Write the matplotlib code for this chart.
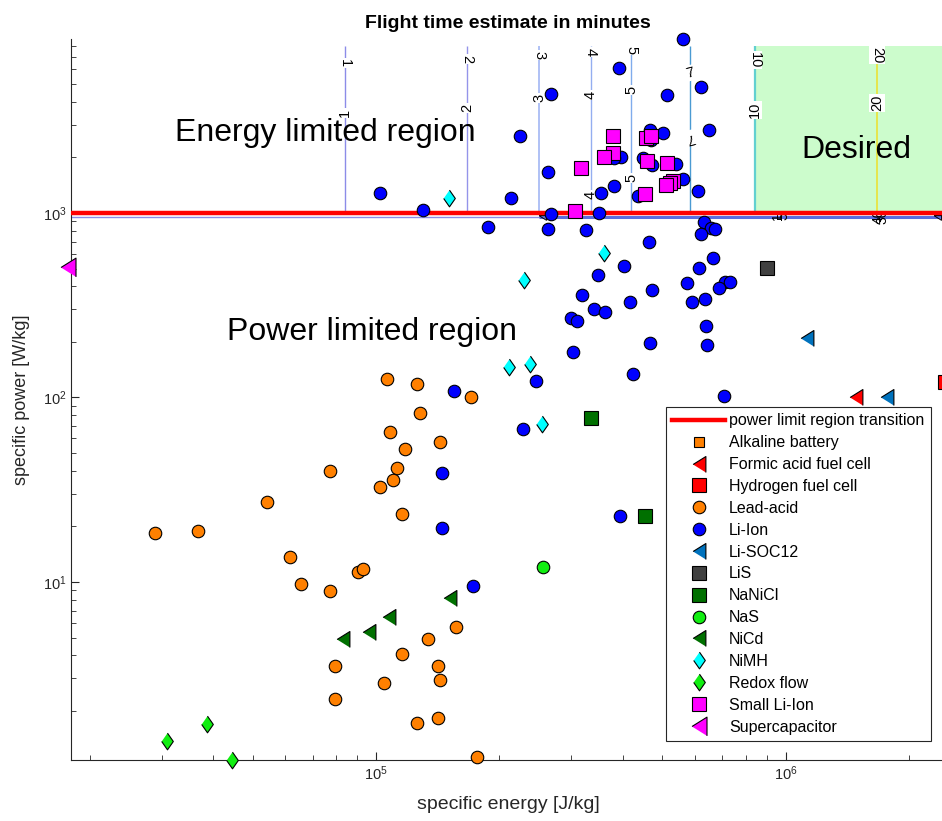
import matplotlib.pyplot as plt

plt.rcParams['font.family'] = ['Liberation Sans', 'DejaVu Sans']
plt.rcParams['mathtext.fontset'] = 'custom'
plt.rcParams['mathtext.rm'] = 'Liberation Sans'
plt.rcParams['mathtext.it'] = 'Liberation Sans:italic'
plt.rcParams['mathtext.bf'] = 'Liberation Sans:bold'

# specific energy [J/kg] / specific power [W/kg]
li_ion_energy = [1.02e5, 1.30e5, 1.88e5, 2.14e5, 5.62e5, 3.91e5, 2.68e5, 5.12e5, 6.21e5, 2.25e5,
                 6.50e5, 5.02e5, 4.66e5, 4.69e5, 3.96e5, 3.81e5, 4.49e5, 4.71e5, 5.41e5, 5.62e5,
                 2.63e5, 3.80e5, 3.54e5, 4.35e5, 6.11e5, 2.67e5, 3.51e5, 2.63e5, 3.25e5, 6.32e5,
                 6.59e5, 6.72e5, 6.21e5, 4.63e5, 6.65e5, 4.03e5, 6.15e5, 3.48e5, 5.73e5, 7.11e5,
                 7.31e5, 6.88e5, 4.71e5, 3.18e5, 4.17e5, 5.92e5, 6.36e5, 3.40e5, 3.63e5, 2.99e5,
                 3.09e5, 6.39e5, 4.66e5, 6.44e5, 3.03e5, 4.23e5, 2.46e5, 7.07e5, 2.28e5, 3.94e5,
                 1.55e5, 1.45e5, 1.45e5, 1.72e5]
li_ion_power = [1279, 1034, 836, 1201, 8770, 6083, 4398, 4378, 4800, 2624,
                2818, 2704, 2818, 2487, 2019, 1994, 1994, 1820, 1836, 1528,
                1674, 1406, 1279, 1241, 1316, 984, 1004, 816, 809, 890,
                832, 816, 767, 699, 568, 518, 503, 459, 419, 424,
                421, 394, 383, 361, 331, 331, 340, 303, 292, 269,
                260, 245, 198, 193, 176, 134, 123, 102, 67.5, 22.7,
                108, 39.0, 19.5, 9.5]

lead_acid_energy = [1.064e5, 1.257e5, 1.705e5, 1.278e5, 1.084e5, 1.432e5, 1.179e5, 7.72e4,
                    1.123e5, 1.102e5, 1.024e5, 1.159e5, 5.41e4, 2.89e4, 3.674e4, 6.18e4,
                    9.02e4, 9.28e4, 6.57e4, 7.72e4, 1.57e5, 1.337e5, 1.159e5, 7.93e4,
                    1.414e5, 1.43e5, 1.044e5, 7.93e4, 1.257e5, 1.414e5, 1.761e5]
lead_acid_power = [126, 118.3, 100.2, 82.7, 65.0, 57.6, 52.6, 40.1,
                   41.3, 35.7, 32.6, 23.4, 27.1, 18.4, 18.9, 13.6,
                   11.3, 11.7, 9.75, 8.94, 5.68, 4.89, 4.09, 3.52,
                   3.52, 2.94, 2.85, 2.31, 1.71, 1.82, 1.12]

small_li_ion_energy = [3.79e5, 4.555e5, 4.69e5, 3.79e5, 3.605e5, 3.162e5, 4.60e5,
                       5.126e5, 5.32e5, 5.22e5, 5.10e5, 4.54e5, 3.06e5]
small_li_ion_power = [2624, 2541, 2614, 2107, 2004, 1760, 1913, 1859, 1491, 1449, 1418, 1268, 1025]

nimh_energy = [1.51e5, 3.605e5, 2.30e5, 2.108e5, 2.378e5, 2.536e5]
nimh_power = [1201, 605, 433, 146.9, 152, 71.8]

nicd_energy = [8.30e4, 9.60e4, 1.074e5, 1.518e5]
nicd_power = [4.89, 5.34, 6.44, 8.16]

redox_energy = [3.09e4, 3.865e4, 4.455e4]
redox_power = [1.38, 1.70, 1.084]

nas_energy = [2.55e5]
nas_power = [12.1]

nanicl_energy = [3.345e5, 4.54e5]
nanicl_power = [77.8, 22.7]

lis_energy = [9.0e5]
lis_power = [501]

lisocl_energy = [1.129e6, 1.77e6]
lisocl_power = [211, 100.2]

formic_energy = [1.482e6]
formic_power = [100.2]

hydrogen_energy = [2.45e6]
hydrogen_power = [121]

supercap_energy = [1.77e4]
supercap_power = [508]

alkaline_energy = []
alkaline_power = []

transition_energy = [1.8e4, 2.45e6]
transition_power = [1000, 1000]

# flight time contours (minutes) and where they sit
flight_minutes = [1, 2, 3, 4, 5, 7, 10, 20]
flight_energy = [8.4e4, 1.67e5, 2.5e5, 3.35e5, 4.2e5, 5.85e5, 8.4e5, 1.67e6]
label_top_power = [6500, 6840, 7178, 7480, 7645, 5740, 6747, 7178]
label_low_power = [3483, 3706, 4198, 4362, 4645, 2550, 3614, 3945]
contour_power_range = [1000, 8000]
flat_contour_power = [955, 952]

desired_energy = [8.4e5, 2.45e6]
desired_power = [1000, 8000]

line_colors = ['#8c8ce8', '#9494ea', '#a2b6f4', '#94aef0', '#80acec', '#4a9ad2', '#62d0d0', '#e6e64c']
line_widths = [1, 1, 1.2, 1, 1, 1, 1.6, 1.4]

fig = plt.figure(figsize=(9.42, 8.21), dpi=100)
ax = fig.add_axes([0.0754, 0.0743, 0.9278, 0.8782])
ax.set_xscale('log')
ax.set_yscale('log')

# desired region
ax.fill([desired_energy[0], desired_energy[1], desired_energy[1], desired_energy[0]],
        [desired_power[0], desired_power[0], desired_power[1], desired_power[1]],
        color='#ccfccc', lw=0, zorder=0)

# contour lines
ax.hlines(flat_contour_power[0], transition_energy[0], transition_energy[1],
          color=line_colors[0], lw=1, zorder=1)
ax.hlines(flat_contour_power[1], flight_energy[2], transition_energy[1],
          color='#5a6ee0', lw=2.2, zorder=1)
for i, t in enumerate(flight_minutes):
    ax.vlines(flight_energy[i], contour_power_range[0], contour_power_range[1],
              color=line_colors[i], lw=line_widths[i], zorder=1)
    rot_top, rot_low = (15, 195) if t == 7 else (-90, 90)
    for p, r in [(label_top_power[i], rot_top), (label_low_power[i], rot_low)]:
        ax.text(flight_energy[i], p, str(t), rotation=r, ha='center', va='center',
                fontsize=10.5, zorder=2,
                bbox=dict(facecolor='white', edgecolor='none', pad=0.6))
ax.text(flight_energy[3], 1252, '4', rotation=90, ha='center', va='center', fontsize=10.5,
        zorder=2, bbox=dict(facecolor='white', edgecolor='none', pad=0.6))
ax.text(flight_energy[4], 1548, '5', rotation=90, ha='center', va='center', fontsize=10.5,
        zorder=2, bbox=dict(facecolor='white', edgecolor='none', pad=0.6))

# labels squeezed on the flat part of the contours
flat_label_energy = [2.59e5, 9.6e5, 9.9e5, 1.69e6, 1.72e6, 2.39e6]
flat_label_text = ['4', '1', '5', '40', '30', '4']
for e, s in zip(flat_label_energy, flat_label_text):
    ax.text(e, 958, s, rotation=90, ha='center', va='center', fontsize=10, zorder=2)

ax.plot(transition_energy, transition_power, color='red', lw=3.2, zorder=3,
        label='power limit region transition')

diamond = [(0, 1), (0.7, 0), (0, -1), (-0.7, 0)]
tri_left = [(-0.8, 0), (0.8, 1), (0.8, -1)]

series = [
    (alkaline_energy, alkaline_power, 's', '#ff8000', 7, 'Alkaline battery'),
    (formic_energy, formic_power, tri_left, '#ff0000', 11.5, 'Formic acid fuel cell'),
    (hydrogen_energy, hydrogen_power, 's', '#ff0000', 9.5, 'Hydrogen fuel cell'),
    (lead_acid_energy, lead_acid_power, 'o', '#ff8000', 9, 'Lead-acid'),
    (li_ion_energy, li_ion_power, 'o', '#0000ff', 9, 'Li-Ion'),
    (lisocl_energy, lisocl_power, tri_left, '#0072bd', 11.5, 'Li-SOC12'),
    (lis_energy, lis_power, 's', '#404040', 9.5, 'LiS'),
    (nanicl_energy, nanicl_power, 's', '#007000', 9.5, 'NaNiCl'),
    (nas_energy, nas_power, 'o', '#11ee11', 9, 'NaS'),
    (nicd_energy, nicd_power, tri_left, '#007000', 11.5, 'NiCd'),
    (nimh_energy, nimh_power, diamond, '#00ffff', 12, 'NiMH'),
    (redox_energy, redox_power, diamond, '#11ee11', 12, 'Redox flow'),
    (small_li_ion_energy, small_li_ion_power, 's', '#ff00ff', 9.5, 'Small Li-Ion'),
    (supercap_energy, supercap_power, tri_left, '#ff00ff', 13.5, 'Supercapacitor'),
]
for e, p, m, c, ms, lab in series:
    ax.plot(e, p, linestyle='none', marker=m, ms=ms, mfc=c, mec='black', mew=0.8,
            label=lab, zorder=4, clip_on=False)

ax.text(7.52e4, 2714, 'Energy limited region', fontsize=23, ha='center', va='center', zorder=2)
ax.text(9.79e4, 226.5, 'Power limited region', fontsize=23, ha='center', va='center', zorder=2)
ax.text(1.491e6, 2200, 'Desired', fontsize=23, ha='center', va='center', zorder=2)

ax.set_xlim(1.8e4, 2.45e6)
ax.set_ylim(1.084, 8770)

ax.set_title('Flight time estimate in minutes', fontsize=14, fontweight='bold', pad=8)
ax.set_xlabel('specific energy [J/kg]', fontsize=14, color='#262626', labelpad=9)
ax.set_ylabel('specific power [W/kg]', fontsize=13, color='#262626', labelpad=9)

for side in ['top', 'right']:
    ax.spines[side].set_visible(False)
for side in ['left', 'bottom']:
    ax.spines[side].set_color('#262626')
    ax.spines[side].set_linewidth(0.8)
ax.tick_params(which='both', direction='in', colors='#262626', labelsize=10.5)
ax.tick_params(which='major', length=6)
ax.tick_params(which='minor', length=3.3)

leg = ax.legend(loc='upper left', bbox_to_anchor=(666 / 942, 1 - 407 / 821),
                bbox_transform=fig.transFigure, borderaxespad=0, fontsize=11.5,
                handlelength=3.3, handletextpad=0.25, labelspacing=0.43, borderpad=0.4,
                fancybox=False, framealpha=1, edgecolor='#262626', numpoints=1)
leg.get_frame().set_linewidth(0.8)
leg.set_zorder(10)

fig.savefig('out.png', dpi=100)
